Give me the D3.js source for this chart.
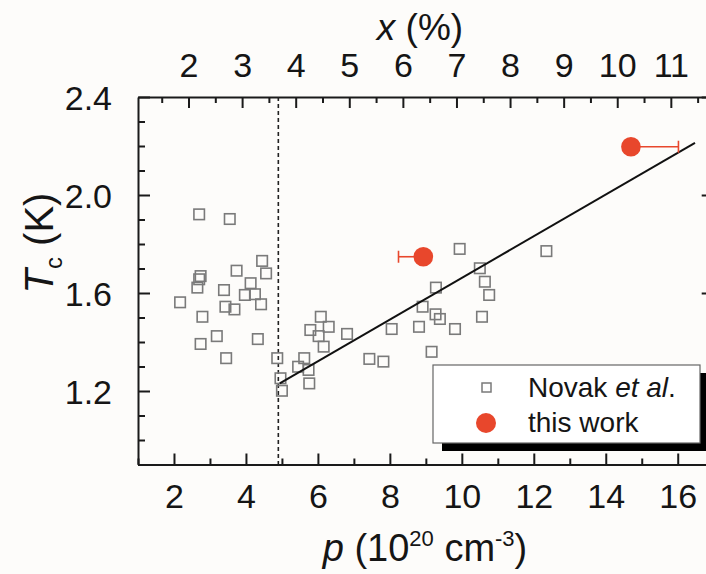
<!DOCTYPE html>
<html>
<head>
<meta charset="utf-8">
<script src="https://cdn.jsdelivr.net/npm/d3@7"></script>
<style>
  html, body { margin: 0; padding: 0; background: #fdfcfa; }
  svg { display: block; }
  text { font-family: "Liberation Sans", Arial, sans-serif; fill: #151515; }
</style>
</head>
<body>
<svg id="chart" width="706" height="574"></svg>
<script>
// ---------- data ----------
const novakP  = [2.70, 3.55, 4.45, 3.74, 4.56, 2.74, 2.70, 4.13, 2.65, 3.39, 3.97, 4.25, 2.17, 3.43, 3.68, 4.42,
                 2.79, 3.19, 2.74, 4.33, 3.45, 4.87, 4.96, 5.00,
                 6.08, 5.79, 6.02, 6.30, 6.16, 5.62, 5.45, 5.74, 5.76, 6.81, 8.05, 7.43, 7.82, 8.81, 8.91,
                 9.28, 9.27, 9.39, 9.81, 9.16, 9.94, 10.50, 10.64, 10.76, 10.56, 12.35];
const novakTc = [1.921, 1.902, 1.731, 1.691, 1.680, 1.669, 1.656, 1.640, 1.622, 1.612, 1.592, 1.595, 1.562, 1.544, 1.533, 1.554,
                 1.503, 1.424, 1.392, 1.412, 1.334, 1.334, 1.252, 1.201,
                 1.503, 1.449, 1.424, 1.462, 1.381, 1.334, 1.299, 1.286, 1.231, 1.433, 1.453, 1.331, 1.320, 1.462, 1.544,
                 1.622, 1.513, 1.494, 1.453, 1.360, 1.780, 1.701, 1.646, 1.592, 1.503, 1.771];
const workP       = [8.93, 14.70];
const workTc      = [1.748, 2.197];
const workErrMinus = [0.69, 0.0];
const workErrPlus  = [0.0, 1.32];
const fitP  = [4.94, 16.48];
const fitTc = [1.231, 2.213];
const thresholdP = 4.9;
const pTicks  = [2, 4, 6, 8, 10, 12, 14, 16];
const pMinor  = [1, 3, 5, 7, 9, 11, 13, 15, 17];
const xTicks  = [2, 3, 4, 5, 6, 7, 8, 9, 10, 11];
const xMinor  = [1.5, 2.5, 3.5, 4.5, 5.5, 6.5, 7.5, 8.5, 9.5, 10.5, 11.5];
const tcTicks = [1.2, 1.6, 2.0, 2.4];
const tcMinor = [0.9, 1.0, 1.1, 1.3, 1.4, 1.5, 1.7, 1.8, 1.9, 2.1, 2.2, 2.3];
const legendLabels = ["Novak", "this work"];

// ---------- layout ----------
const L = 138, R = 713.7, T = 97, B = 464.5;
const red = "#e8472c";
const svg = d3.select("#chart");

const xP  = d3.scaleLinear().domain([1, 17]).range([L, R]);
const xPc = d3.scaleLinear().domain([1.0575, 11.80]).range([L, R]);
const y   = d3.scaleLinear().domain([0.9, 2.4]).range([B, T]);

function styleAxis(g) {
  g.selectAll(".domain").attr("stroke", "#1a1a1a").attr("stroke-width", 2);
  g.selectAll(".tick line").attr("stroke", "#1a1a1a").attr("stroke-width", 2);
  g.selectAll(".tick text").style("font-size", "34px").attr("fill", "#151515")
    .style("font-family", "'Liberation Sans', Arial, sans-serif");
}

// bottom axis
const gb = svg.append("g").attr("transform", `translate(0,${B})`)
  .call(d3.axisBottom(xP).tickValues(pTicks).tickSizeInner(-11).tickSizeOuter(0).tickPadding(19).tickFormat(d3.format("d")));
styleAxis(gb);
gb.selectAll(".tick text").attr("dy", "0.71em");
const gbm = svg.append("g").attr("transform", `translate(0,${B})`)
  .call(d3.axisBottom(xP).tickValues(pMinor).tickSize(-6).tickFormat(""));
styleAxis(gbm); gbm.select(".domain").remove();

// top axis
const gt = svg.append("g").attr("transform", `translate(0,${T})`)
  .call(d3.axisTop(xPc).tickValues(xTicks).tickSizeInner(-11).tickSizeOuter(0).tickPadding(20).tickFormat(d3.format("d")));
styleAxis(gt);
const gtm = svg.append("g").attr("transform", `translate(0,${T})`)
  .call(d3.axisTop(xPc).tickValues(xMinor).tickSize(-6).tickFormat(""));
styleAxis(gtm); gtm.select(".domain").remove();

// left axis
const gl = svg.append("g").attr("transform", `translate(${L},0)`)
  .call(d3.axisLeft(y).tickValues(tcTicks).tickSizeInner(-12).tickSizeOuter(0).tickPadding(26).tickFormat(d3.format(".1f")));
styleAxis(gl);
gl.selectAll(".tick text").attr("dy", "0.36em");
const glm = svg.append("g").attr("transform", `translate(${L},0)`)
  .call(d3.axisLeft(y).tickValues(tcMinor).tickSize(-7).tickFormat(""));
styleAxis(glm); glm.select(".domain").remove();

// right axis
const gr = svg.append("g").attr("transform", `translate(${R},0)`)
  .call(d3.axisRight(y).tickValues(tcTicks).tickSizeInner(-12).tickSizeOuter(0).tickFormat(""));
styleAxis(gr);

// dashed threshold line
svg.append("line")
  .attr("x1", xP(thresholdP)).attr("x2", xP(thresholdP))
  .attr("y1", T).attr("y2", B)
  .attr("stroke", "#222").attr("stroke-width", 1.6).attr("stroke-dasharray", "4,3");

// Novak squares
const sq = 10.5;
svg.append("g").selectAll("rect").data(novakP.map((p, i) => [p, novakTc[i]])).join("rect")
  .attr("x", d => xP(d[0]) - sq / 2).attr("y", d => y(d[1]) - sq / 2)
  .attr("width", sq).attr("height", sq)
  .attr("fill", "none").attr("stroke", "#7a7a7a").attr("stroke-width", 1.6);

// fit line
svg.append("line")
  .attr("x1", xP(fitP[0])).attr("y1", y(fitTc[0]))
  .attr("x2", xP(fitP[1])).attr("y2", y(fitTc[1]))
  .attr("stroke", "#111").attr("stroke-width", 2);

// this work: error bars + points
const work = workP.map((p, i) => ({p, tc: workTc[i], lo: p - workErrMinus[i], hi: p + workErrPlus[i], m: workErrMinus[i], pl: workErrPlus[i]}));
const eg = svg.append("g");
work.forEach(d => {
  eg.append("line").attr("x1", xP(d.lo)).attr("x2", xP(d.hi)).attr("y1", y(d.tc)).attr("y2", y(d.tc))
    .attr("stroke", red).attr("stroke-width", 1.6);
  if (d.m > 0) eg.append("line").attr("x1", xP(d.lo)).attr("x2", xP(d.lo)).attr("y1", y(d.tc) - 6).attr("y2", y(d.tc) + 6)
    .attr("stroke", red).attr("stroke-width", 1.6);
  if (d.pl > 0) eg.append("line").attr("x1", xP(d.hi)).attr("x2", xP(d.hi)).attr("y1", y(d.tc) - 6).attr("y2", y(d.tc) + 6)
    .attr("stroke", red).attr("stroke-width", 1.6);
});
svg.append("g").selectAll("circle").data(work).join("circle")
  .attr("cx", d => xP(d.p)).attr("cy", d => y(d.tc)).attr("r", 9.8).attr("fill", red);

// legend
const lg = svg.append("g");
lg.append("rect").attr("x", 442).attr("y", 373).attr("width", 267).attr("height", 78).attr("fill", "#000");
lg.append("rect").attr("x", 433).attr("y", 365).attr("width", 267).attr("height", 78)
  .attr("fill", "#fff").attr("stroke", "#666").attr("stroke-width", 1.2);
lg.append("rect").attr("x", 482).attr("y", 383).attr("width", 9).attr("height", 9)
  .attr("fill", "none").attr("stroke", "#7a7a7a").attr("stroke-width", 1.5);
lg.append("circle").attr("cx", 486).attr("cy", 423).attr("r", 10).attr("fill", red);
const t1 = lg.append("text").attr("x", 528).attr("y", 397).style("font-size", "28px");
t1.append("tspan").text(legendLabels[0] + " ");
t1.append("tspan").style("font-style", "italic").text("et al");
t1.append("tspan").text(".");
lg.append("text").attr("x", 528).attr("y", 432).style("font-size", "28px").text(legendLabels[1]);

// axis titles
const tt = svg.append("text").attr("x", 420).attr("y", 40).attr("text-anchor", "middle").style("font-size", "37px");
tt.append("tspan").style("font-style", "italic").text("x");
tt.append("tspan").text(" (%)");

const bt = svg.append("text").attr("x", 425).attr("y", 561).attr("text-anchor", "middle").style("font-size", "38px");
bt.append("tspan").style("font-style", "italic").text("p");
bt.append("tspan").text(" (10");
bt.append("tspan").attr("dy", -15).style("font-size", "22px").text("20");
bt.append("tspan").attr("dy", 15).text(" cm");
bt.append("tspan").attr("dy", -15).style("font-size", "22px").text("-3");
bt.append("tspan").attr("dy", 15).text(")");

const lt = svg.append("text").attr("transform", "translate(53,243) rotate(-90)").attr("text-anchor", "middle").style("font-size", "40px");
lt.append("tspan").style("font-style", "italic").text("T");
lt.append("tspan").attr("dy", 9).style("font-size", "24px").text("c");
lt.append("tspan").attr("dy", -9).text(" (K)");
</script>
</body>
</html>
